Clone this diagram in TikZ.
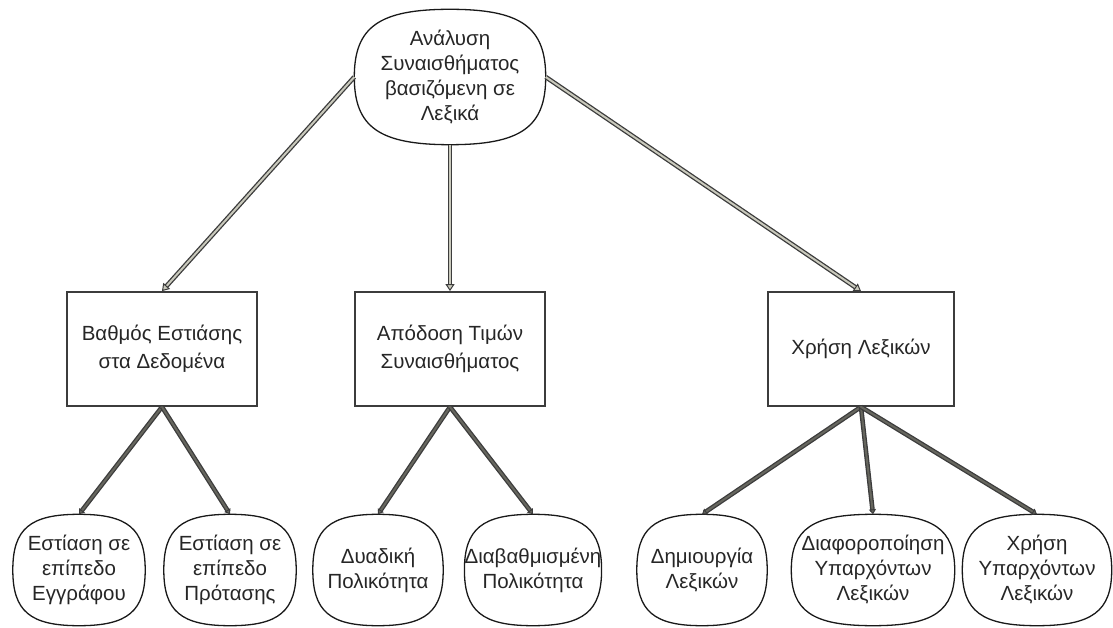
\documentclass[tikz,border=0pt]{standalone}
\usepackage{fontspec}
\setmainfont{Liberation Sans}
\usetikzlibrary{arrows.meta,calc}
\definecolor{edgedark}{HTML}{3C3C3C}
\definecolor{lightfill}{HTML}{C9C9BC}
\definecolor{darkfill}{HTML}{66665E}
\newcommand\pk{0.74}
% rounded "pill" outline drawn around a named node
\newcommand\pillshape[1]{%
  \draw[pillline] (#1.north)
    .. controls ($(#1.north)!\pk!(#1.north east)$) and ($(#1.east)!\pk!(#1.north east)$) .. (#1.east)
    .. controls ($(#1.east)!\pk!(#1.south east)$) and ($(#1.south)!\pk!(#1.south east)$) .. (#1.south)
    .. controls ($(#1.south)!\pk!(#1.south west)$) and ($(#1.west)!\pk!(#1.south west)$) .. (#1.west)
    .. controls ($(#1.west)!\pk!(#1.north west)$) and ($(#1.north)!\pk!(#1.north west)$) .. (#1.north) -- cycle;}
\begin{document}
\begin{tikzpicture}[x=1pt,y=-1pt,
  txt/.style={font=\fontsize{20.5}{25}\selectfont, align=center, inner sep=0pt, text=black!85},
  box/.style={txt, draw=edgedark, line width=1.8pt, minimum width=#1, minimum height=114pt,
    font=\fontsize{20.5}{28}\selectfont},
  pillnode/.style={txt, minimum width=#1, minimum height=111pt},
  pillline/.style={draw=black!90, line width=1.3pt},
  hollowarrow/.style={draw=lightfill, line width=2pt,
    -{Triangle[length=7pt,width=9pt,line width=1pt,color=edgedark,fill=lightfill]},
    preaction={draw=edgedark, line width=4.6pt, -, shorten >=5pt}},
  darkarrow/.style={draw=darkfill, line width=2pt,
    -{Triangle[length=5pt,width=7pt,line width=1pt,color=edgedark,fill=darkfill]},
    preaction={draw=edgedark, line width=4.6pt, -, shorten >=3pt}},
]
\useasboundingbox (0,0) rectangle (1113,628);

% root
\node[pillnode=191pt, minimum height=135pt] (root) at (450,77)
  {Ανάλυση\\Συναισθήματος\\βασιζόμενη σε\\Λεξικά};
\pillshape{root}

% second level
\node[box=190pt] (focus) at (162,349) {Βαθμός Εστιάσης\\στα Δεδομένα};
\node[box=190pt] (score) at (450,349) {Απόδοση Τιμών\\Συναισθήματος};
\node[box=186pt] (lex) at (861,349) {Χρήση Λεξικών};

% leaves
\node[pillnode=132pt] (doc) at (79,570) {Εστίαση σε\\επίπεδο\\Εγγράφου};
\node[pillnode=132pt] (sent) at (230,570) {Εστίαση σε\\επίπεδο\\Πρότασης};
\node[pillnode=130pt] (bin) at (378,570) {Δυαδική\\Πολικότητα};
\node[pillnode=136pt] (grad) at (533,570) {Διαβαθμισμένη\\Πολικότητα};
\node[pillnode=130pt] (create) at (702,570) {Δημιουργία\\Λεξικών};
\node[pillnode=163pt] (adapt) at (873,570) {Διαφοροποίηση\\Υπαρχόντων\\Λεξικών};
\node[pillnode=149pt] (reuse) at (1037,570) {Χρήση\\Υπαρχόντων\\Λεξικών};
\foreach \n in {doc,sent,bin,grad,create,adapt,reuse} {\pillshape{\n}}

% connectors
\draw[hollowarrow] (root.west) -- (focus.north);
\draw[hollowarrow] (root.south) -- (score.north);
\draw[hollowarrow] (root.east) -- (lex.north);

\draw[darkarrow] (focus.south) -- (doc.north);
\draw[darkarrow] (focus.south) -- (sent.north);
\draw[darkarrow] (score.south) -- (bin.north);
\draw[darkarrow] (score.south) -- (grad.north);
\draw[darkarrow] (lex.south) -- (create.north);
\draw[darkarrow] (lex.south) -- (adapt.north);
\draw[darkarrow] (lex.south) -- (reuse.north);
\end{tikzpicture}
\end{document}
